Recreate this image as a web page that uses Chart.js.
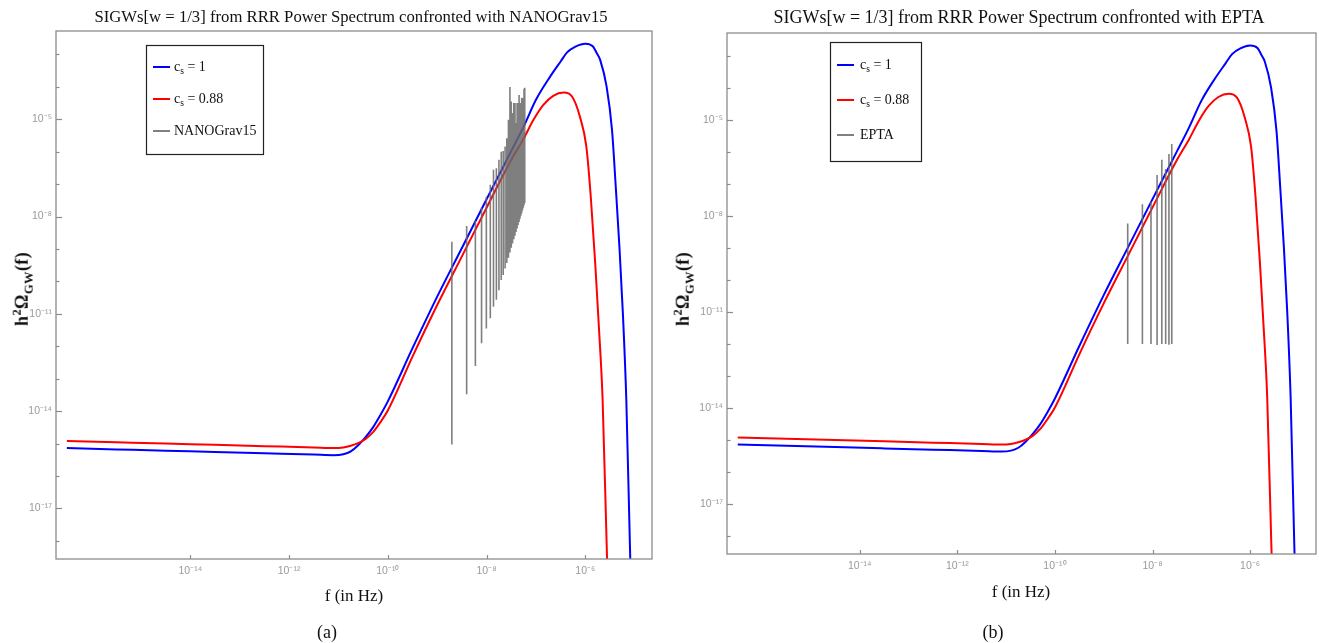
<!DOCTYPE html>
<html><head><meta charset="utf-8">
<script src="https://cdn.jsdelivr.net/npm/chart.js@4"></script>
<style>
body{margin:0;background:#fff;width:1319px;height:643px;position:relative;overflow:hidden;font-family:"Liberation Serif",serif;color:#111;}
canvas{position:absolute;top:0;}
.t{position:absolute;white-space:nowrap;transform:translate(-50%,-50%);}
.xl{font-size:17px;}
.cap{font-size:18px;}
.yl{font-size:18px;font-weight:bold;transform:translate(-50%,-50%) rotate(-90deg);letter-spacing:0.4px;}
.yl sub{font-size:12.5px;}
.yl sup{font-size:12.5px;}
</style></head>
<body>
<canvas id="c1" style="left:0"></canvas>
<canvas id="c2" style="left:662px"></canvas>
<div class="t" style="left:351px;top:17px;font-size:16.7px">SIGWs[w = 1/3] from RRR Power Spectrum confronted with NANOGrav15</div>
<div class="t" style="left:1019px;top:17px;font-size:18px">SIGWs[w = 1/3] from RRR Power Spectrum confronted with EPTA</div>
<div class="t xl" style="left:354px;top:596px">f (in Hz)</div>
<div class="t xl" style="left:1021px;top:592px">f (in Hz)</div>
<div class="t cap" style="left:327px;top:632px">(a)</div>
<div class="t cap" style="left:993px;top:632px">(b)</div>
<div class="t yl" style="left:23px;top:289px">h<sup>2</sup>Ω<sub>GW</sub>(f)</div>
<div class="t yl" style="left:684px;top:289px">h<sup>2</sup>Ω<sub>GW</sub>(f)</div>
<script>
// ---- data (log10 values) ----
const blueLogF = [-16.5,-15.5,-14.5,-13.5,-12.5,-11.5,-11.1,-10.9,-10.75,-10.6,-10.45,-10.3,-10.15,-10.0,-9.5,-9.0,-8.5,-8.0,-7.5,-7.25,-7.0,-6.71,-6.5,-6.37,-6.2,-6.0,-5.85,-5.77,-5.70,-5.57,-5.46,-5.38,-5.31,-5.24,-5.17,-5.09,-5.05];
const blueLogOmega = [-15.14,-15.18,-15.22,-15.26,-15.30,-15.34,-15.36,-15.33,-15.24,-15.05,-14.80,-14.50,-14.12,-13.70,-12.06,-10.47,-8.97,-7.47,-5.98,-5.23,-4.40,-3.68,-3.22,-2.94,-2.76,-2.67,-2.75,-2.96,-3.17,-3.99,-5.33,-7.18,-8.93,-10.98,-13.66,-18.57,-20.5];
const redLogF = [-16.5,-15.5,-14.5,-13.5,-12.5,-11.5,-11.1,-10.9,-10.75,-10.6,-10.45,-10.3,-10.15,-10.0,-9.5,-9.0,-8.5,-8.0,-7.5,-7.25,-7.05,-6.85,-6.65,-6.44,-6.27,-6.11,-5.98,-5.89,-5.80,-5.73,-5.65,-5.56,-5.52];
const redLogOmega = [-14.92,-14.96,-15.00,-15.04,-15.08,-15.12,-15.14,-15.12,-15.07,-14.99,-14.86,-14.65,-14.34,-13.98,-12.32,-10.73,-9.23,-7.73,-6.25,-5.60,-5.02,-4.56,-4.28,-4.18,-4.30,-4.92,-5.84,-7.39,-9.44,-11.29,-13.66,-18.57,-20.5];

const nanogravFreq = [1.98e-9,3.95e-9,5.93e-9,7.91e-9,9.89e-9,1.19e-8,1.38e-8,1.58e-8,1.78e-8,1.98e-8,2.17e-8,2.37e-8,2.57e-8,2.77e-8,2.97e-8,3.16e-8,3.36e-8,3.56e-8,3.76e-8,3.95e-8,4.15e-8,4.35e-8,4.55e-8,4.75e-8,4.94e-8,5.14e-8,5.34e-8,5.54e-8,5.73e-8,5.93e-8];
const nanogravLogLow = [-15.03,-13.48,-12.61,-11.91,-11.45,-11.14,-10.78,-10.57,-10.27,-9.96,-9.80,-9.60,-9.43,-9.27,-9.11,-8.96,-8.83,-8.70,-8.59,-8.48,-8.37,-8.26,-8.17,-8.07,-7.98,-7.90,-7.81,-7.73,-7.65,-7.58];
const nanogravLogHigh = [-8.78,-8.29,-8.13,-7.73,-7.39,-7.02,-6.56,-6.51,-6.25,-6.00,-5.98,-5.84,-5.59,-5.02,-4.01,-4.45,-4.81,-4.50,-4.50,-5.12,-4.50,-4.50,-4.25,-4.50,-4.50,-4.34,-4.35,-4.40,-4.06,-4.03];

const eptaFreq = [3.1e-9,6.2e-9,9.3e-9,1.24e-8,1.55e-8,1.86e-8,2.17e-8,2.48e-8];
const eptaLogLow = [-12.00,-12.00,-12.00,-12.03,-12.00,-12.00,-12.02,-12.00];
const eptaLogHigh = [-8.23,-7.63,-7.55,-6.72,-6.24,-6.53,-6.06,-5.75];

const xTickExps = [-14,-12,-10,-8,-6];
const yTickExps = [-18,-17,-16,-15,-14,-13,-12,-11,-10,-9,-8,-7,-6,-5,-4,-3];
const yLabelExps = [-17,-14,-11,-8,-5];
const xRangeExp = [-16.72,-4.65];
const yRangeExp = [-18.56,-2.28];

// ---- helpers ----
const SUP = {'-':'\u207B','0':'\u2070','1':'\u00B9','2':'\u00B2','3':'\u00B3','4':'\u2074','5':'\u2075','6':'\u2076','7':'\u2077','8':'\u2078','9':'\u2079'};
const powLabel = e => '10' + String(e).split('').map(c=>SUP[c]).join('');
const toPts = (lf, ly) => lf.map((f,i)=>({x:Math.pow(10,f), y:Math.pow(10,ly[i])}));
const barPts = (fr, lo, hi) => fr.flatMap((f,i)=>[{x:f,y:Math.pow(10,lo[i])},{x:f,y:Math.pow(10,hi[i])},{x:f,y:null}]);

const framePlugin = {
  id:'frame',
  afterDraw(chart){
    const {ctx, chartArea:a, scales} = chart;
    ctx.save();
    ctx.strokeStyle='#8c8c8c'; ctx.lineWidth=1.3;
    ctx.strokeRect(a.left, a.top, a.right-a.left, a.bottom-a.top);
    ctx.lineWidth=1.2;
    scales.y.ticks.forEach(t=>{
      const p = Math.round(scales.y.getPixelForValue(t.value))+0.5;
      const len = t.label ? 6 : 3.5;
      ctx.beginPath(); ctx.moveTo(a.left,p); ctx.lineTo(a.left+len,p); ctx.stroke();
    });
    scales.x.ticks.forEach(t=>{
      const p = Math.round(scales.x.getPixelForValue(t.value))+0.5;
      ctx.beginPath(); ctx.moveTo(p,a.bottom); ctx.lineTo(p,a.bottom-4); ctx.stroke();
    });
    ctx.restore();
  }
};

function drawRich(ctx, text, x, y, size){
  // "c_s = 1" : underscore marks a one-letter subscript
  let cx = x;
  text.split(/(_.)/).forEach(p=>{
    if(!p) return;
    if(p[0]==='_'){
      ctx.font = (size*0.68)+'px "Liberation Serif"';
      ctx.fillText(p[1], cx, y+4);
      cx += ctx.measureText(p[1]).width;
    } else {
      ctx.font = size+'px "Liberation Serif"';
      ctx.fillText(p, cx, y);
      cx += ctx.measureText(p).width;
    }
  });
}

const boxLegendPlugin = {
  id:'boxLegend',
  afterDraw(chart, args, o){
    const ctx = chart.ctx;
    ctx.save();
    ctx.fillStyle='#fff'; ctx.fillRect(o.x,o.y,o.w,o.h);
    ctx.strokeStyle='#222'; ctx.lineWidth=1.2; ctx.strokeRect(o.x+0.5,o.y+0.5,o.w,o.h);
    ctx.textBaseline='middle';
    o.order.forEach((idx,k)=>{
      const ds = chart.data.datasets[idx];
      const y = o.y + o.first + k*o.gap;
      ctx.strokeStyle = ds.legendColor || ds.borderColor; ctx.lineWidth=2;
      ctx.beginPath(); ctx.moveTo(o.x+7,y); ctx.lineTo(o.x+24,y); ctx.stroke();
      ctx.fillStyle='#111';
      drawRich(ctx, ds.label, o.x+o.textX, y, o.font);
    });
    ctx.restore();
  }
};

function makeChart(id, W, L, barLabel, bars, leg){
  const el = document.getElementById(id);
  el.width = W; el.height = 643;
  return new Chart(el, {
    type:'line',
    data:{datasets:[
      {label:barLabel, data:bars, borderColor:'rgba(105,105,105,0.85)', legendColor:'#808080', borderWidth:1.6, pointRadius:0, spanGaps:false, borderCapStyle:'butt'},
      {label:'c_s = 0.88', data:toPts(redLogF, redLogOmega), borderColor:'#ff0000', borderWidth:2, pointRadius:0, cubicInterpolationMode:'monotone'},
      {label:'c_s = 1', data:toPts(blueLogF, blueLogOmega), borderColor:'#0000ff', borderWidth:2, pointRadius:0, cubicInterpolationMode:'monotone'}
    ]},
    options:{
      responsive:false, animation:false, devicePixelRatio:1,
      layout:{padding:{left:0, top:L.top, right:L.right, bottom:L.bottom}},
      scales:{
        x:{type:'logarithmic', bounds:'data', min:Math.pow(10,xRangeExp[0]), max:Math.pow(10,xRangeExp[1]),
           grid:{display:false, drawTicks:false}, border:{display:false},
           afterBuildTicks:s=>{ s.ticks = xTickExps.map(e=>({value:Math.pow(10,e)})); },
           afterFit:s=>{ s.height = L.xh; },
           ticks:{autoSkip:false, maxRotation:0, minRotation:0, padding:6, color:'#9a9a9a', font:{family:'Liberation Sans', size:10.5},
                  callback:v=>powLabel(Math.round(Math.log10(v)))}},
        y:{type:'logarithmic', bounds:'data', min:Math.pow(10,yRangeExp[0]), max:Math.pow(10,yRangeExp[1]),
           grid:{display:false, drawTicks:false}, border:{display:false},
           afterBuildTicks:s=>{ s.ticks = yTickExps.map(e=>({value:Math.pow(10,e)})); },
           afterFit:s=>{ s.width = L.left; },
           ticks:{autoSkip:false, padding:4, color:'#9a9a9a', font:{family:'Liberation Sans', size:10.5},
                  callback:v=>{ const e=Math.round(Math.log10(v)); return yLabelExps.includes(e) ? powLabel(e) : ''; }}}
      },
      plugins:{legend:{display:false}, tooltip:{enabled:false}, boxLegend:leg}
    },
    plugins:[framePlugin, boxLegendPlugin]
  });
}

makeChart('c1', 662, {left:56, top:31, right:10, bottom:54, xh:30}, 'NANOGrav15',
  barPts(nanogravFreq, nanogravLogLow, nanogravLogHigh),
  {x:146, y:45, w:117, h:109, first:22, gap:32, textX:28, font:14, order:[2,1,0]});
makeChart('c2', 657, {left:65, top:33, right:3, bottom:59, xh:30}, 'EPTA',
  barPts(eptaFreq, eptaLogLow, eptaLogHigh),
  {x:168, y:42, w:91, h:119, first:23, gap:35, textX:30, font:14, order:[2,1,0]});
</script>
</body></html>
